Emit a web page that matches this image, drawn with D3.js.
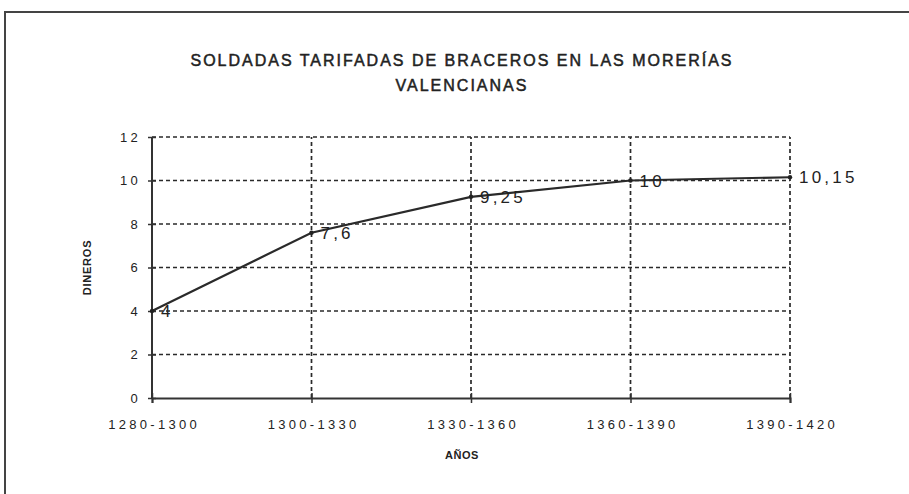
<!DOCTYPE html>
<html lang="es">
<head>
<meta charset="UTF-8">
<title>Soldadas tarifadas</title>
<script src="https://cdn.jsdelivr.net/npm/d3@7"></script>
<style>
  body { margin: 0; padding: 0; background: #fff; }
  text { font-family: "Liberation Sans", Arial, sans-serif; fill: #222; }
</style>
</head>
<body>
<script>
  const width = 909
  const height = 494

  const periods = ['1280-1300', '1300-1330', '1330-1360', '1360-1390', '1390-1420']
  const dineros = [4, 7.6, 9.25, 10, 10.15]
  const pointLabels = ['4', '7,6', '9,25', '10', '10,15']
  const yTicks = [0, 2, 4, 6, 8, 10, 12]
  const titleLines = ['SOLDADAS TARIFADAS DE BRACEROS EN LAS MORERÍAS', 'VALENCIANAS']

  const margin = { left: 152, right: 119, top: 137, bottom: 96 }

  const svg = d3.select('body').append('svg')
    .attr('width', width)
    .attr('height', height)

  // frame of the figure
  svg.append('path')
    .attr('d', `M5,${height} L5,12 L${width},12`)
    .attr('fill', 'none')
    .attr('stroke', '#444')
    .attr('stroke-width', 2)

  const x = d3.scalePoint()
    .domain(periods)
    .range([margin.left, width - margin.right])

  const y = d3.scaleLinear()
    .domain([0, 12])
    .range([height - margin.bottom, margin.top])

  // grid
  const grid = svg.append('g')
    .attr('stroke', '#2a2a2a')
    .attr('stroke-width', 1.7)
    .attr('stroke-dasharray', '4,3')

  grid.selectAll('line.h')
    .data(yTicks.filter(d => d > 0))
    .join('line')
    .attr('class', 'h')
    .attr('x1', x(periods[0]))
    .attr('x2', x(periods[periods.length - 1]))
    .attr('y1', d => y(d))
    .attr('y2', d => y(d))

  grid.selectAll('line.v')
    .data(periods.slice(1))
    .join('line')
    .attr('class', 'v')
    .attr('x1', d => x(d))
    .attr('x2', d => x(d))
    .attr('y1', y(0))
    .attr('y2', y(12))

  // axes
  const yAxis = svg.append('g')
    .attr('transform', `translate(${x(periods[0])},0)`)
    .call(d3.axisLeft(y).tickValues(yTicks).tickSize(4).tickPadding(10))
  const xAxis = svg.append('g')
    .attr('transform', `translate(0,${y(0)})`)
    .call(d3.axisBottom(x).tickSize(5).tickPadding(17))

  for (const ax of [yAxis, xAxis]) {
    ax.select('.domain').attr('stroke', '#333').attr('stroke-width', 2)
    ax.selectAll('.tick line').attr('stroke', '#333').attr('stroke-width', 1.5)
    ax.selectAll('.tick text')
      .attr('fill', '#222')
      .style('font-size', '13px')
      .style('letter-spacing', '3.3px')
      .style('font-family', '"Liberation Sans", Arial, sans-serif')
  }
  yAxis.select('.domain').attr('d', `M0,${y(0)}V${y(12)}`)
  xAxis.selectAll('.tick line').attr('y1', -5)
  xAxis.selectAll('.tick text').attr('dx', '1.6px')
  yAxis.selectAll('.tick text').attr('dx', '3px')
  yAxis.selectAll('.tick line').attr('x1', -4).attr('x2', 4)

  // series line
  const line = d3.line()
    .x((d, i) => x(periods[i]))
    .y(d => y(d))

  svg.append('path')
    .datum(dineros)
    .attr('fill', 'none')
    .attr('stroke', '#2a2a2a')
    .attr('stroke-width', 2.2)
    .attr('d', line)

  svg.append('g')
    .selectAll('circle')
    .data(dineros)
    .join('circle')
    .attr('cx', (d, i) => x(periods[i]))
    .attr('cy', d => y(d))
    .attr('r', 2.2)
    .attr('fill', '#222')

  svg.append('g')
    .selectAll('text')
    .data(dineros)
    .join('text')
    .attr('x', (d, i) => x(periods[i]) + 9)
    .attr('y', d => y(d))
    .attr('dy', '0.36em')
    .style('font-size', '17px')
    .style('letter-spacing', '3.2px')
    .text((d, i) => pointLabels[i])

  // titles
  svg.append('g')
    .selectAll('text')
    .data(titleLines)
    .join('text')
    .attr('x', 462)
    .attr('y', (d, i) => 66 + i * 25)
    .attr('text-anchor', 'middle')
    .style('font-size', '16px')
    .style('letter-spacing', '2px')
    .attr('stroke', '#222')
    .attr('stroke-width', 0.5)
    .text(d => d)

  svg.append('text')
    .attr('x', 462)
    .attr('y', 459)
    .attr('text-anchor', 'middle')
    .style('font-size', '11px')
    .style('font-weight', 'bold')
    .style('letter-spacing', '0.5px')
    .text('AÑOS')

  svg.append('text')
    .attr('transform', `translate(91,${(y(0) + y(12)) / 2}) rotate(-90)`)
    .attr('text-anchor', 'middle')
    .style('font-size', '11px')
    .style('font-weight', 'bold')
    .style('letter-spacing', '0.8px')
    .text('DINEROS')
</script>
</body>
</html>
